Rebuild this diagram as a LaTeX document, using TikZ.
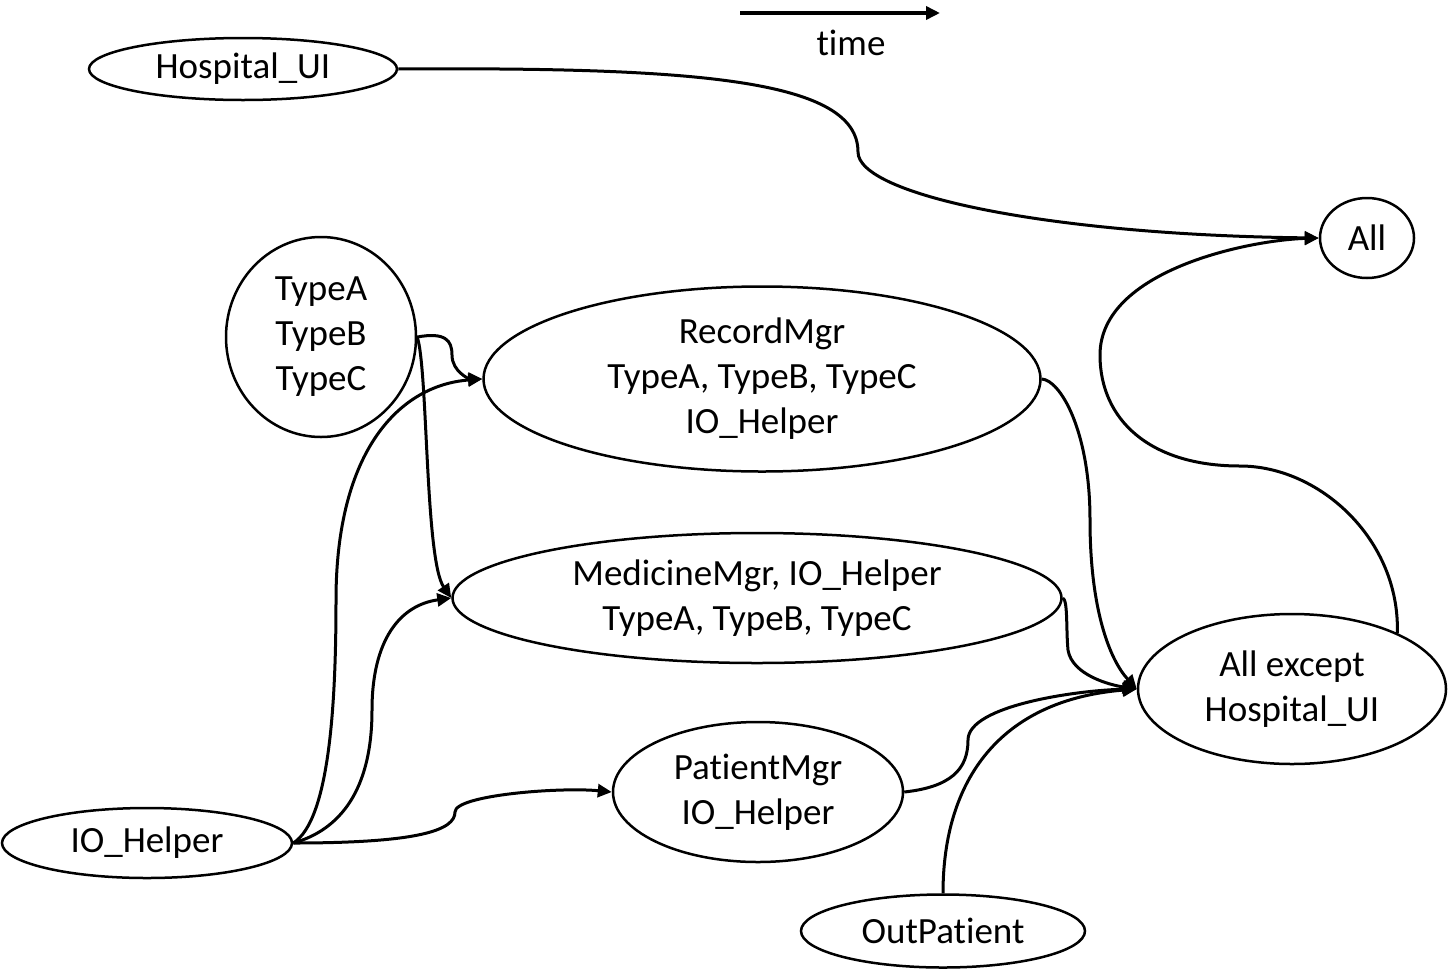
\documentclass[tikz,border=0pt]{standalone}
\usepackage{fontspec}
\setmainfont{Carlito}[Ligatures=CommonOff]
\usetikzlibrary{shapes.geometric,arrows.meta}

\begin{document}
\begin{tikzpicture}[x=1pt, y=-1pt, line width=3pt]
	\tikzstyle{every node} = [ellipse, draw, line width=2.5pt, inner sep=0pt, align=center, font=\fontsize{37}{45}\selectfont]
	\tikzstyle{conn} = [-{Triangle[length=14pt,width=13pt]}]
	\useasboundingbox (0,0) rectangle (1448,975);
	\node[minimum width=308, minimum height=62] (hui) at (243,69) {Hospital\_UI};
	\node[minimum width=190, minimum height=200] (typ) at (321,337) {TypeA\\TypeB\\TypeC};
	\node[minimum width=557, minimum height=185] (rec) at (762,379) {RecordMgr\\TypeA, TypeB, TypeC\\IO\_Helper};
	\node[minimum width=609, minimum height=130] (med) at (757,598) {MedicineMgr, IO\_Helper\\TypeA, TypeB, TypeC};
	\node[minimum width=290, minimum height=140] (pat) at (758,792) {PatientMgr\\IO\_Helper};
	\node[minimum width=290, minimum height=70] (io) at (147,843) {IO\_Helper};
	\node[minimum width=284, minimum height=73] (outp) at (943,931) {OutPatient};
	\node[minimum width=308, minimum height=150] (ae) at (1292,689) {All except\\Hospital\_UI};
	\node[minimum width=94, minimum height=80] (all) at (1367,238) {All};
	\coordinate (t0) at (740,13);
	\coordinate (t1) at (940,13);
	\node[draw=none] (tlbl) at (851,43) {time};
	\draw [conn, line width=4pt] (t0)--(t1);
	\draw [conn] (hui.east) .. controls (700,67) and (858,80) .. (858,152) .. controls (858,195) and (1050,235) .. (all.west);
	\draw [conn] (typ.east) .. controls (445,332) and (452,340) .. (452,355) .. controls (452,372) and (470,379) .. (rec.west);
	\draw [conn] (typ.east) .. controls (428,370) and (425,560) .. (med.west);
	\draw [conn] (io.east) .. controls (330,820) and (336,700) .. (336,600) .. controls (336,450) and (400,385) .. (rec.west);
	\draw [conn] (io.east) .. controls (340,830) and (372,790) .. (372,710) .. controls (372,640) and (400,605) .. (med.west);
	\draw [conn] (io.east) .. controls (420,843) and (455,830) .. (455,812) .. controls (455,795) and (560,787) .. (pat.west);
	\draw [conn] (rec.east) .. controls (1060,380) and (1090,430) .. (1090,520) .. controls (1090,610) and (1110,660) .. (ae.west);
	\draw [conn] (med.east) .. controls (1068,600) and (1066,630) .. (1068,650) .. controls (1072,675) and (1110,685) .. (ae.west);
	\draw [conn] (pat.east) .. controls (950,787) and (968,770) .. (968,740) .. controls (968,705) and (1080,690) .. (ae.west);
	\draw [conn] (outp.north) .. controls (943,780) and (1000,700) .. (ae.west);
	\draw [conn] (ae.28) .. controls (1400,540) and (1320,466) .. (1240,466) .. controls (1150,466) and (1100,420) .. (1100,355) .. controls (1100,270) and (1250,240) .. (all.west);
\end{tikzpicture}
\end{document}
